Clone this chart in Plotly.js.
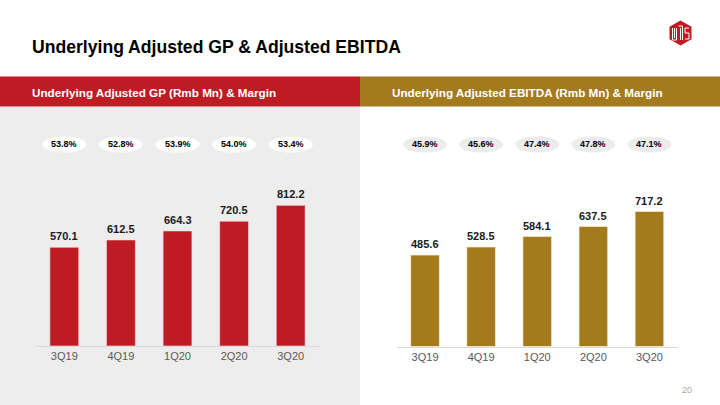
<!DOCTYPE html>
<html>
<head>
<meta charset="utf-8">
<script src="https://cdn.plot.ly/plotly-3.0.1.min.js"></script>
<style>html,body{margin:0;padding:0;background:#fff;}#chart{width:720px;height:405px;}</style>
</head>
<body>
<div id="chart"></div>
<script>
const categories = ['3Q19', '4Q19', '1Q20', '2Q20', '3Q20'];
const gpValues = [570.1, 612.5, 664.3, 720.5, 812.2];
const gpMargins = ['53.8%', '52.8%', '53.9%', '54.0%', '53.4%'];
const ebitdaValues = [485.6, 528.5, 584.1, 637.5, 717.2];
const ebitdaMargins = ['45.9%', '45.6%', '47.4%', '47.8%', '47.1%'];

const pageTitle = 'Underlying Adjusted GP & Adjusted EBITDA';
const leftHeader = 'Underlying Adjusted GP (Rmb Mn) & Margin';
const rightHeader = 'Underlying Adjusted EBITDA (Rmb Mn) & Margin';
const pageNumber = '20';

const RED = '#bf1b24';
const GOLD = '#a47a1f';
const FONT = 'Arial, "Liberation Sans", sans-serif';
const W = 720, H = 405;
const px = v => v / W;
const py = v => 1 - v / H;

const traces = [
  {type: 'bar', x: categories, y: gpValues, xaxis: 'x', yaxis: 'y',
   marker: {color: RED, line: {color: 'rgba(255,220,220,0.8)', width: 0.8}}, hoverinfo: 'skip'},
  {type: 'bar', x: categories, y: ebitdaValues, xaxis: 'x2', yaxis: 'y2',
   marker: {color: GOLD, line: {color: 'rgba(255,240,210,0.8)', width: 0.8}}, hoverinfo: 'skip'}
];

const shapes = [];
const annotations = [];

// panels
shapes.push({type: 'rect', xref: 'paper', yref: 'paper', x0: 0, x1: 0.5, y0: 0, y1: py(106.5), fillcolor: '#ededed', line: {width: 0}, layer: 'below'});
shapes.push({type: 'rect', xref: 'paper', yref: 'paper', x0: 0, x1: 0.5, y0: py(106.5), y1: py(76.5), fillcolor: RED, line: {width: 0}, layer: 'below'});
shapes.push({type: 'rect', xref: 'paper', yref: 'paper', x0: 0.5, x1: 1, y0: py(106.5), y1: py(76.5), fillcolor: GOLD, line: {width: 0}, layer: 'below'});

// logo
const hex = [[680.5,20.5],[691.5,26.8],[691.5,39.2],[680.5,45.5],[669.5,39.2],[669.5,26.8]];
shapes.push({type: 'path', xref: 'paper', yref: 'paper',
  path: 'M ' + hex.map(p => px(p[0]) + ',' + py(p[1])).join(' L ') + ' Z',
  fillcolor: RED, line: {width: 0}});
const strokes = [
  [[672.5,28],[672.5,40],[676.5,40],[676.5,28]],
  [[674.5,28],[674.5,38]],
  [[678.5,26],[682.5,26],[682.5,40]],
  [[680.5,28],[680.5,40]],
  [[689,28],[685,28],[685,33],[689,33],[689,39],[685,39]]
];
strokes.forEach(s => shapes.push({type: 'path', xref: 'paper', yref: 'paper',
  path: 'M ' + s.map(p => px(p[0]) + ',' + py(p[1])).join(' L '),
  line: {color: '#ffffff', width: 1}}));

// margin pills
function pills(margins, xref, fill) {
  margins.forEach((m, i) => {
    shapes.push({type: 'circle', xref: xref, yref: 'paper', x0: i - 0.39, x1: i + 0.39,
      y0: py(152.5), y1: py(136.5), fillcolor: fill, line: {width: 0}});
    annotations.push({xref: xref, yref: 'paper', x: i, y: py(144.5), text: '<b>' + m + '</b>',
      showarrow: false, font: {family: FONT, size: 9, color: '#000'}});
  });
}
pills(gpMargins, 'x', '#ffffff');
pills(ebitdaMargins, 'x2', '#ececec');

// value labels
function valueLabels(values, xref, yref) {
  values.forEach((v, i) => annotations.push({xref: xref, yref: yref, x: categories[i], y: v,
    yanchor: 'bottom', yshift: 3, text: '<b>' + v.toFixed(1) + '</b>', showarrow: false,
    font: {family: FONT, size: 11, color: '#1a1a1a'}}));
}
valueLabels(gpValues, 'x', 'y');
valueLabels(ebitdaValues, 'x2', 'y2');

// texts
annotations.push({xref: 'paper', yref: 'paper', x: px(30), y: py(47), xanchor: 'left', yanchor: 'middle',
  text: '<b>' + pageTitle + '</b>', showarrow: false, font: {family: FONT, size: 17.6, color: '#000'}});
annotations.push({xref: 'paper', yref: 'paper', x: px(30), y: py(92.5), xanchor: 'left', yanchor: 'middle',
  text: '<b>' + leftHeader + '</b>', showarrow: false, font: {family: FONT, size: 11.7, color: '#fff'}});
annotations.push({xref: 'paper', yref: 'paper', x: px(390), y: py(92.5), xanchor: 'left', yanchor: 'middle',
  text: '<b>' + rightHeader + '</b>', showarrow: false, font: {family: FONT, size: 11.7, color: '#fff'}});
annotations.push({xref: 'paper', yref: 'paper', x: px(687), y: py(390), xanchor: 'center', yanchor: 'middle',
  text: pageNumber, showarrow: false, font: {family: FONT, size: 9, color: '#a6a6a6'}});

const xCommon = {type: 'category', showline: true, linecolor: '#d9d9d9', linewidth: 1, ticks: '',
  showgrid: false, zeroline: false, tickfont: {family: FONT, size: 11, color: '#595959'}, fixedrange: true};
const yCommon = {showgrid: false, zeroline: false, showticklabels: false, showline: false, ticks: '', fixedrange: true};

const layout = {
  width: W, height: H,
  margin: {l: 0, r: 0, t: 0, b: 0, pad: 0},
  paper_bgcolor: '#ffffff', plot_bgcolor: 'rgba(0,0,0,0)',
  showlegend: false, bargap: 0.49,
  font: {family: FONT},
  xaxis: Object.assign({}, xCommon, {domain: [px(36), px(319)], range: [-0.5, 4.5], anchor: 'y'}),
  yaxis: Object.assign({}, yCommon, {domain: [py(346), py(160)], range: [0, 186 / 0.1732], anchor: 'x'}),
  xaxis2: Object.assign({}, xCommon, {domain: [px(397), px(677.5)], range: [-0.5, 4.5], anchor: 'y2'}),
  yaxis2: Object.assign({}, yCommon, {domain: [py(346.5), py(160)], range: [0, 186.5 / 0.1882], anchor: 'x2'}),
  shapes: shapes,
  annotations: annotations
};

Plotly.newPlot('chart', traces, layout, {displayModeBar: false, staticPlot: true});
</script>
</body>
</html>
